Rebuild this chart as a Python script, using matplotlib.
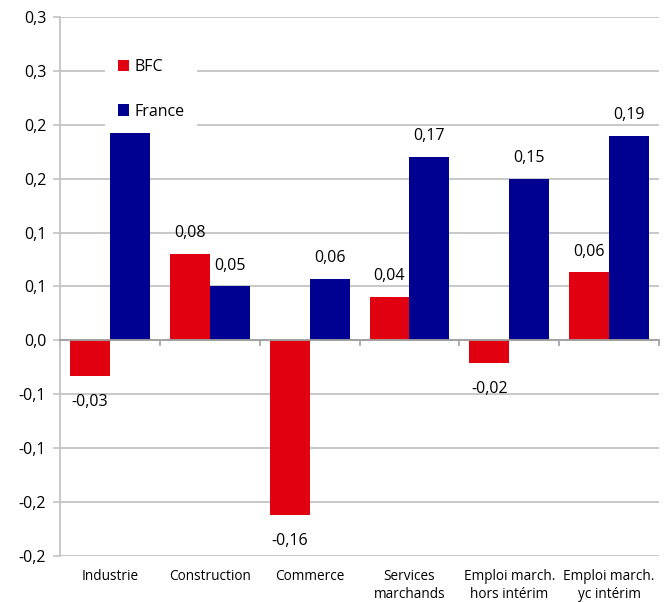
import numpy as np
import matplotlib.pyplot as plt
from matplotlib.ticker import FixedLocator, FixedFormatter
import matplotlib.transforms as mtransforms

plt.rcParams['font.family'] = ['Open Sans', 'DejaVu Sans']

categories = ['Industrie', 'Construction', 'Commerce', 'Services\nmarchands',
              'Emploi march.\nhors intérim', 'Emploi march.\nyc intérim']
bfc = [-0.033, 0.080, -0.162, 0.040, -0.021, 0.063]
france = [0.192, 0.050, 0.057, 0.170, 0.150, 0.190]
bfc_labels = ['-0,03', '0,08', '-0,16', '0,04', '-0,02', '0,06']
# the Industrie label sits behind the legend in the original, so it is left out
france_labels = ['', '0,05', '0,06', '0,17', '0,15', '0,19']
yticks = [-0.2, -0.15, -0.1, -0.05, 0.0, 0.05, 0.1, 0.15, 0.2, 0.25, 0.3]
ytick_labels = ['-0,2', '-0,2', '-0,1', '-0,1', '0,0', '0,1', '0,1', '0,2', '0,2', '0,3', '0,3']

RED = '#e1000f'
BLUE = '#000091'
GRID = '#c4c4c4'

fig = plt.figure(figsize=(6.7, 6.02), dpi=100)
ax = fig.add_axes([0.0896, 0.0764, 0.894, 0.8954])

x = np.arange(len(categories))
w = 0.4
ax.bar(x - w / 2, bfc, w, color=RED, label='BFC', zorder=3)
ax.bar(x + w / 2, france, w, color=BLUE, label='France', zorder=3)

ax.set_xlim(-0.5, len(categories) - 0.5)
ax.set_ylim(-0.2, 0.3)

ax.yaxis.set_major_locator(FixedLocator(yticks))
ax.yaxis.set_major_formatter(FixedFormatter(ytick_labels))
ax.tick_params(axis='y', length=5, width=1.2, color=GRID, labelsize=11.5, pad=5)
ax.grid(axis='y', color=GRID, linewidth=1.3, zorder=0)

for s in ['top', 'right']:
    ax.spines[s].set_visible(False)
ax.spines['left'].set_color(GRID)
ax.spines['left'].set_linewidth(1.3)
ax.spines['bottom'].set_position(('data', 0))
ax.spines['bottom'].set_color('#a0a0a0')
ax.spines['bottom'].set_linewidth(1.3)
ax.spines['bottom'].set_zorder(4)

ax.set_xticks([])
ax.set_xticks(np.arange(len(categories) + 1) - 0.5, minor=True)
ax.tick_params(axis='x', which='minor', length=4, width=1.2, color='#a0a0a0')

trans = mtransforms.blended_transform_factory(ax.transData, ax.transAxes)
for i, c in enumerate(categories):
    ax.text(i, -0.024, c, transform=trans, ha='center', va='top',
            fontsize=9.8, linespacing=1.3)

for i in range(len(categories)):
    v = bfc[i]
    off = 15 if v >= 0 else -19
    ax.annotate(bfc_labels[i], (x[i] - w / 2, v), xytext=(0, off),
                textcoords='offset points', ha='center', va='center', fontsize=11.5)
    if france_labels[i]:
        ax.annotate(france_labels[i], (x[i] + w / 2, france[i]), xytext=(0, 15),
                    textcoords='offset points', ha='center', va='center', fontsize=11.5)

leg = ax.legend(loc='upper left', bbox_to_anchor=(0.075, 0.946), frameon=True,
                fontsize=11.5, labelspacing=1.8, handlelength=0.7, handleheight=0.7,
                handletextpad=0.35, borderpad=0.8, borderaxespad=0)
leg.get_frame().set_facecolor('white')
leg.get_frame().set_edgecolor('none')
leg.get_frame().set_alpha(1)
leg.set_zorder(5)

fig.savefig('out.png', dpi=100)
